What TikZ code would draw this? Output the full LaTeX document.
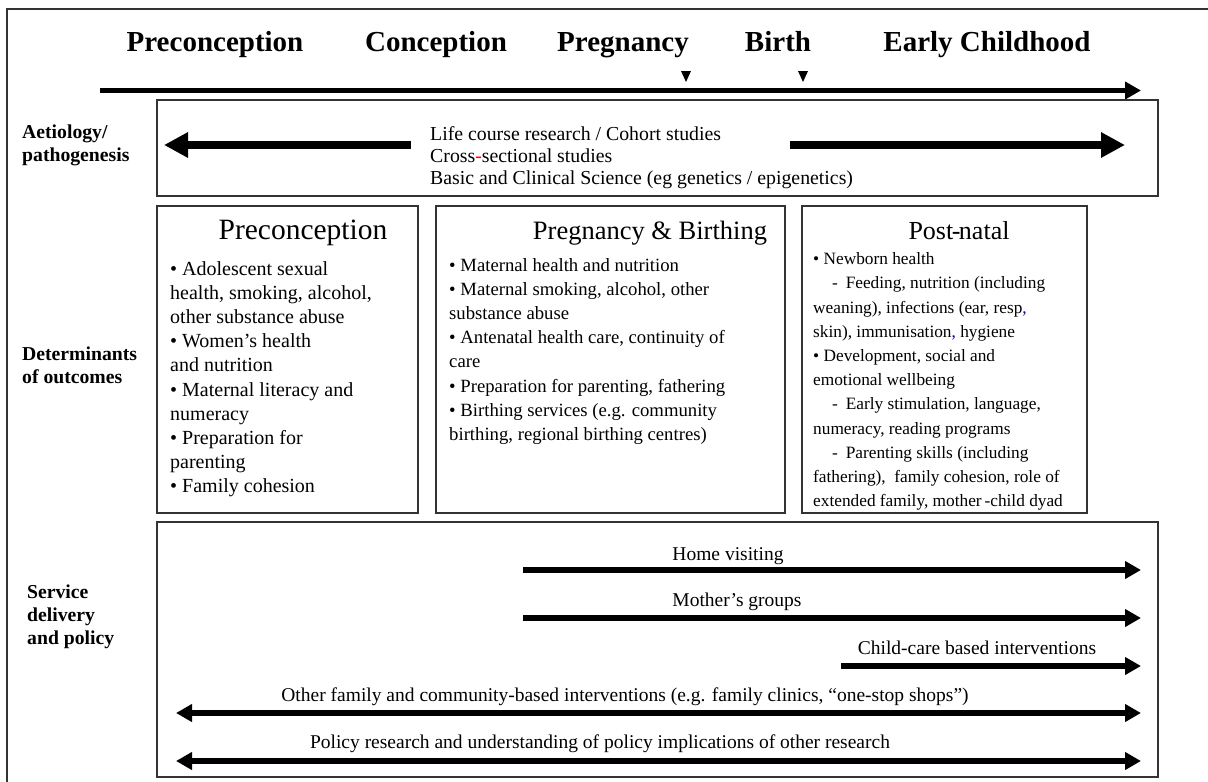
\documentclass[tikz,border=0pt]{standalone}
\usepackage{fontspec}
\setmainfont{Liberation Serif}
\usepackage{xcolor}
\usetikzlibrary{arrows.meta,positioning}

\begin{document}
\begin{tikzpicture}[x=1pt, y=-1pt,
    hdr/.style={anchor=base, font=\fontsize{29}{34}\selectfont\bfseries, inner sep=0pt},
    rowlbl/.style={anchor=north west, align=left, inner sep=0pt, font=\fontsize{19.7}{23}\selectfont\bfseries},
    panel/.style={draw=black!80, line width=1.1pt, inner sep=0pt},
    ptitle/.style={inner sep=0pt},
    body/.style={anchor=north west, align=left, inner sep=0pt, font=\fontsize{20}{24.2}\selectfont},
    slbl/.style={inner sep=0pt, font=\fontsize{19.5}{23}\selectfont},
    timeline/.style={line width=5.5pt, -{Triangle[length=16pt, width=17pt]}},
    fat/.style={line width=8pt, -{Triangle[length=24pt, width=24pt]}},
    sarr/.style={line width=5.5pt, -{Triangle[length=16pt, width=17pt]}},
    darr/.style={line width=5.5pt, {Triangle[length=16pt, width=17pt]}-{Triangle[length=16pt, width=17pt]}}
]
\useasboundingbox (0,0) rectangle (1208,782);
\draw[black!80, line width=1.3pt] (7,782) -- (7,9) -- (1208,9);

\node[hdr] (h-precon) at (215,51) {Preconception};
\node[hdr] (h-concep) at (436,51) {Conception};
\node[hdr] (h-preg) at (623,51) {Pregnancy};
\node[hdr] (h-birth) at (778,51) {Birth};
\node[hdr] (h-early) at (987,51) {Early Childhood};

\foreach \mx in {686,803}
    \fill (\mx-5,71) -- (\mx+5,71) -- (\mx,82) -- cycle;

\coordinate (tl-start) at (100,90.5);
\coordinate (tl-end) at (1141,90.5);
\draw[timeline] (tl-start) -- (tl-end);

\node[rowlbl] (l-aetio) at (22,125) {Aetiology/\\pathogenesis};
\node[rowlbl] (l-determ) at (22,347) {Determinants\\of outcomes};
\node[rowlbl] (l-service) at (27,585) {Service\\delivery\\and policy};

\node[panel, minimum width=1001pt, minimum height=96pt] (aetio) at (657.5,148) {};
\node[body, font=\fontsize{19.8}{22}\selectfont] (aetio-txt) at (430,126) {Life course research / Cohort studies\\Cross\textcolor{red}{-}sectional studies\\Basic and Clinical Science (eg genetics / epigenetics)};
\coordinate (ae-l-tail) at (411,145);
\coordinate (ae-l-tip) at (164,145);
\coordinate (ae-r-tail) at (790,145);
\coordinate (ae-r-tip) at (1125,145);
\draw[fat] (ae-l-tail) -- (ae-l-tip);
\draw[fat] (ae-r-tail) -- (ae-r-tip);

\node[panel, minimum width=261pt, minimum height=307pt] (b-precon) at (287.5,359.5) {};
\node[panel, minimum width=349pt, minimum height=307pt] (b-preg) at (610.5,359.5) {};
\node[panel, minimum width=285pt, minimum height=307pt] (b-post) at (944.5,359.5) {};

\node[ptitle, font=\fontsize{29.5}{34}\selectfont] (t-precon) at (303,233) {Preconception};
\node[ptitle, font=\fontsize{26.5}{31}\selectfont] (t-preg) at (650,233) {Pregnancy \& Birthing};
\node[ptitle, font=\fontsize{26}{31}\selectfont] (t-post) at (959,231) {Post\kern-1.5pt-\kern-1.5pt natal};

\node[body] (x-precon) at (170,261) {• Adolescent sexual\\health, smoking, alcohol,\\other substance abuse\\• Women’s health\\and nutrition\\• Maternal literacy and\\numeracy\\• Preparation for\\parenting\\• Family cohesion};
\node[body, font=\fontsize{18.7}{24.2}\selectfont] (x-preg) at (449,258) {• Maternal health and nutrition\\• Maternal smoking, alcohol, other\\substance abuse\\• Antenatal health care, continuity of\\care\\• Preparation for parenting, fathering\\• Birthing services (e.g. community\\birthing, regional birthing centres)};
\node[body, font=\fontsize{17.3}{24.2}\selectfont] (x-post) at (813,252.5) {• Newborn health\\\hspace*{1.1em}-\hspace{0.45em}Feeding, nutrition (including\\weaning), infections (ear, resp\textcolor{blue!70!black}{,}\\skin), immunisation\textcolor{blue!70!black}{,} hygiene\\• Development, social and\\emotional wellbeing\\\hspace*{1.1em}-\hspace{0.45em}Early stimulation, language,\\numeracy, reading programs\\\hspace*{1.1em}-\hspace{0.45em}Parenting skills (including\\fathering),\ \ family cohesion, role of\\extended family, mother\,-child dyad};

\node[panel, minimum width=1001pt, minimum height=255pt] (service) at (657.5,649.5) {};

\node[slbl] (s-home) at (728,556) {Home visiting};
\node[slbl] (s-moth) at (737,602) {Mother’s groups};
\node[slbl] (s-child) at (977,648) {Child-care based interventions};
\node[slbl] (s-other) at (625,697) {Other family and community-based interventions (e.g. family clinics, “one-stop shops”)};
\node[slbl] (s-policy) at (600,744) {Policy research and understanding of policy implications of other research};

\coordinate (home-a) at (523,570);
\coordinate (home-b) at (1141,570);
\coordinate (moth-a) at (523,618);
\coordinate (moth-b) at (1141,618);
\coordinate (child-a) at (841,666);
\coordinate (child-b) at (1141,666);
\coordinate (other-a) at (176,713);
\coordinate (other-b) at (1141,713);
\coordinate (policy-a) at (176,761);
\coordinate (policy-b) at (1141,761);
\draw[sarr] (home-a) -- (home-b);
\draw[sarr] (moth-a) -- (moth-b);
\draw[sarr] (child-a) -- (child-b);
\draw[darr] (other-a) -- (other-b);
\draw[darr] (policy-a) -- (policy-b);
\end{tikzpicture}
\end{document}
